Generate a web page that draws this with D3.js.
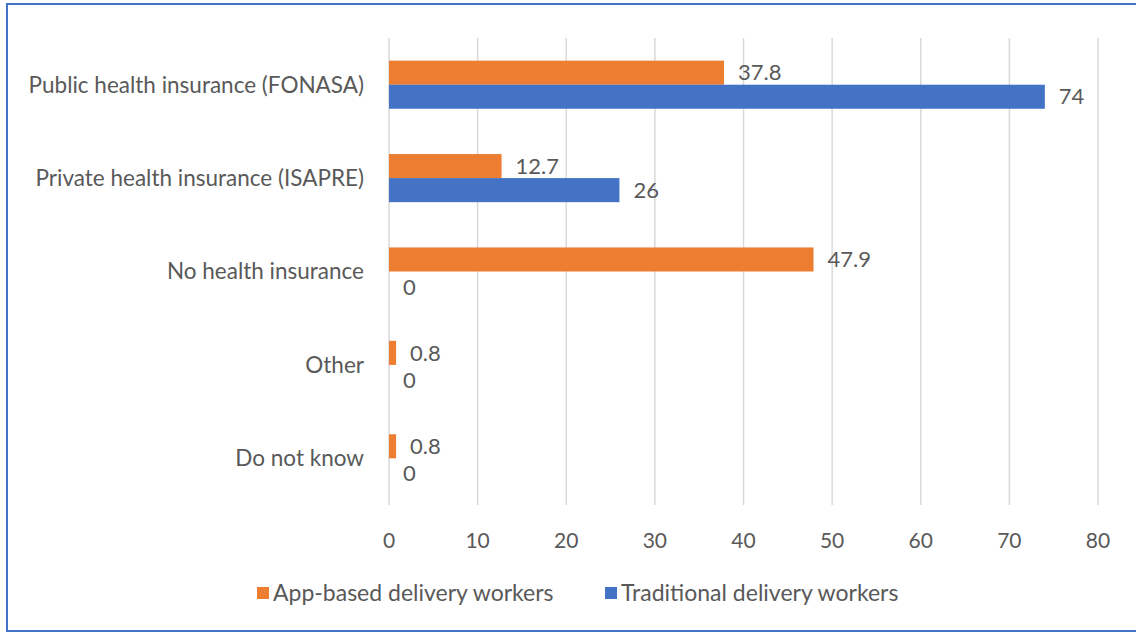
<!DOCTYPE html>
<html>
<head>
<meta charset="utf-8">
<script src="https://cdn.jsdelivr.net/npm/d3@7"></script>
<style>
  body { margin: 0; background: #fff; }
  svg text { font-family: Lato, "Open Sans", sans-serif; fill: #595959; }
</style>
</head>
<body>
<svg id="chart" width="1136" height="635"></svg>
<script>
// data
const categories = ["Public health insurance (FONASA)", "Private health insurance (ISAPRE)", "No health insurance", "Other", "Do not know"];
const appBased = [37.8, 12.7, 47.9, 0.8, 0.8];
const traditional = [74, 26, 0, 0, 0];
const seriesNames = ["App-based delivery workers", "Traditional delivery workers"];
const seriesColors = ["#ED7D31", "#4472C4"];
const xTicks = [0, 10, 20, 30, 40, 50, 60, 70, 80];

const svg = d3.select("#chart");
const width = 1136, height = 635;
const margin = { top: 38, right: 38, bottom: 130, left: 389 };

// frame
svg.append("rect")
  .attr("x", 7).attr("y", 4)
  .attr("width", width).attr("height", 627)
  .attr("fill", "none")
  .attr("stroke", "#4472C4")
  .attr("stroke-width", 2);

const x = d3.scaleLinear().domain([0, 80]).range([margin.left, 1098]);
const y = d3.scaleBand().domain(categories).range([margin.top, height - margin.bottom]).paddingInner(0.485).paddingOuter(0.2425);
const ySub = d3.scaleBand().domain([0, 1]).range([0, y.bandwidth()]);

// gridlines
svg.append("g")
  .selectAll("line")
  .data(xTicks)
  .join("line")
  .attr("x1", d => x(d)).attr("x2", d => x(d))
  .attr("y1", margin.top).attr("y2", height - margin.bottom)
  .attr("stroke", "#d9d9d9")
  .attr("stroke-width", 1.5);

// x axis tick labels
svg.append("g")
  .selectAll("text")
  .data(xTicks)
  .join("text")
  .attr("x", d => x(d))
  .attr("y", 548)
  .attr("text-anchor", "middle")
  .style("font-size", "21px")
  .text(d => d);

// category labels
svg.append("g")
  .selectAll("text")
  .data(categories)
  .join("text")
  .attr("x", 364)
  .attr("y", d => y(d) + y.bandwidth() / 2)
  .attr("dy", "0.35em")
  .attr("text-anchor", "end")
  .style("font-size", "22.5px")
  .text(d => d);

const series = [appBased, traditional];
series.forEach((vals, s) => {
  const g = svg.append("g");
  g.selectAll("rect")
    .data(vals)
    .join("rect")
    .attr("x", x(0))
    .attr("y", (d, i) => y(categories[i]) + ySub(s))
    .attr("width", d => x(d) - x(0))
    .attr("height", ySub.bandwidth())
    .attr("fill", seriesColors[s]);
  g.selectAll("text")
    .data(vals)
    .join("text")
    .attr("x", d => x(d) + 14)
    .attr("y", (d, i) => y(categories[i]) + ySub(s) + ySub.bandwidth() / 2)
    .attr("dy", d => d === 0 ? "0.5em" : "0.35em")
    .style("font-size", "22px")
    .text(d => d);
});

// legend
const legendX = [257, 605];
const legend = svg.append("g");
seriesNames.forEach((name, i) => {
  legend.append("rect")
    .attr("x", legendX[i]).attr("y", 587)
    .attr("width", 12).attr("height", 12)
    .attr("fill", seriesColors[i]);
  legend.append("text")
    .attr("x", legendX[i] + 16).attr("y", 593)
    .attr("dy", "0.35em")
    .style("font-size", "23px")
    .text(name);
});
</script>
</body>
</html>
